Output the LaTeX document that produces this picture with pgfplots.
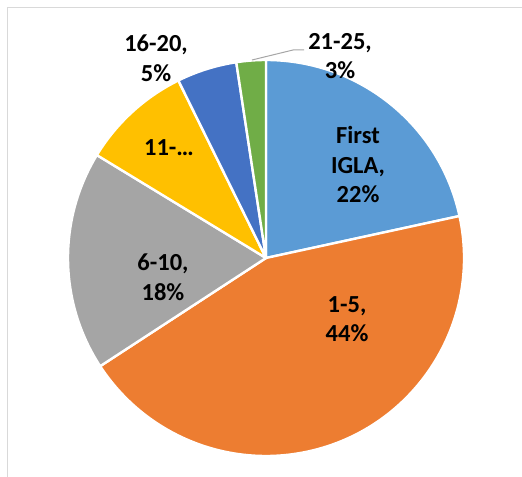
\documentclass[border=0pt]{standalone}
\usepackage{pgfplots}
\pgfplotsset{compat=1.18}
\usepackage{fontspec}
\setmainfont{Carlito}
\definecolor{cA}{HTML}{5B9BD5}
\definecolor{cB}{HTML}{ED7D31}
\definecolor{cC}{HTML}{A5A5A5}
\definecolor{cD}{HTML}{FFC000}
\definecolor{cE}{HTML}{4472C4}
\definecolor{cF}{HTML}{70AD47}
% slice values (percent)
\def\vA{21.6}\def\vB{44.2}\def\vC{17.9}\def\vD{9.0}\def\vE{4.9}\def\vF{2.4}
\pgfmathsetmacro{\aA}{90}
\pgfmathsetmacro{\aB}{\aA-3.6*\vA}
\pgfmathsetmacro{\aC}{\aB-3.6*\vB}
\pgfmathsetmacro{\aD}{\aC-3.6*\vC}
\pgfmathsetmacro{\aE}{\aD-3.6*\vD}
\pgfmathsetmacro{\aF}{\aE-3.6*\vE}
\pgfmathsetmacro{\aG}{\aF-3.6*\vF}
\begin{document}
\begin{tikzpicture}
\begin{axis}[
  scale only axis, width=522bp, height=477bp,
  xmin=0, xmax=522, ymin=0, ymax=477,
  hide axis, clip=false,
]
\def\cx{266}\def\cy{219}\def\R{198bp}
\draw[color=black!15, line width=1.4bp] (axis cs:7.5,0) -- (axis cs:7.5,469.5) -- (axis cs:522,469.5);
\foreach \s/\e/\c in {\aA/\aB/cA,\aB/\aC/cB,\aC/\aD/cC,\aD/\aE/cD,\aE/\aF/cE,\aF/\aG/cF}{
  \edef\tmp{\noexpand\filldraw[fill=\c, draw=white, line width=2.4bp, line join=round]
    (axis cs:\cx,\cy) -- ++(\s:\R) arc[start angle=\s, end angle=\e, radius=\R] -- cycle;}
  \tmp
}
\draw[color=black!35, line width=1bp] (axis cs:252,417) -- (axis cs:293,427) -- (axis cs:304,427);
\tikzset{lab/.style={font=\fontsize{24.5bp}{29.5bp}\selectfont\bfseries, align=center, text=black, inner sep=0pt}}
\node[lab] at (axis cs:358,312) {First\\IGLA,\\22\%};
\node[lab] at (axis cs:347,158) {1-5,\\44\%};
\node[lab] at (axis cs:163,200) {6-10,\\18\%};
\node[lab] at (axis cs:169,329) {11-…};
\node[lab] at (axis cs:156,419) {16-20,\\5\%};
\node[lab] at (axis cs:340,421) {21-25,\\3\%};
\end{axis}
\pgfresetboundingbox
\useasboundingbox (0,0) rectangle (522bp,477bp);
\end{tikzpicture}
\end{document}
